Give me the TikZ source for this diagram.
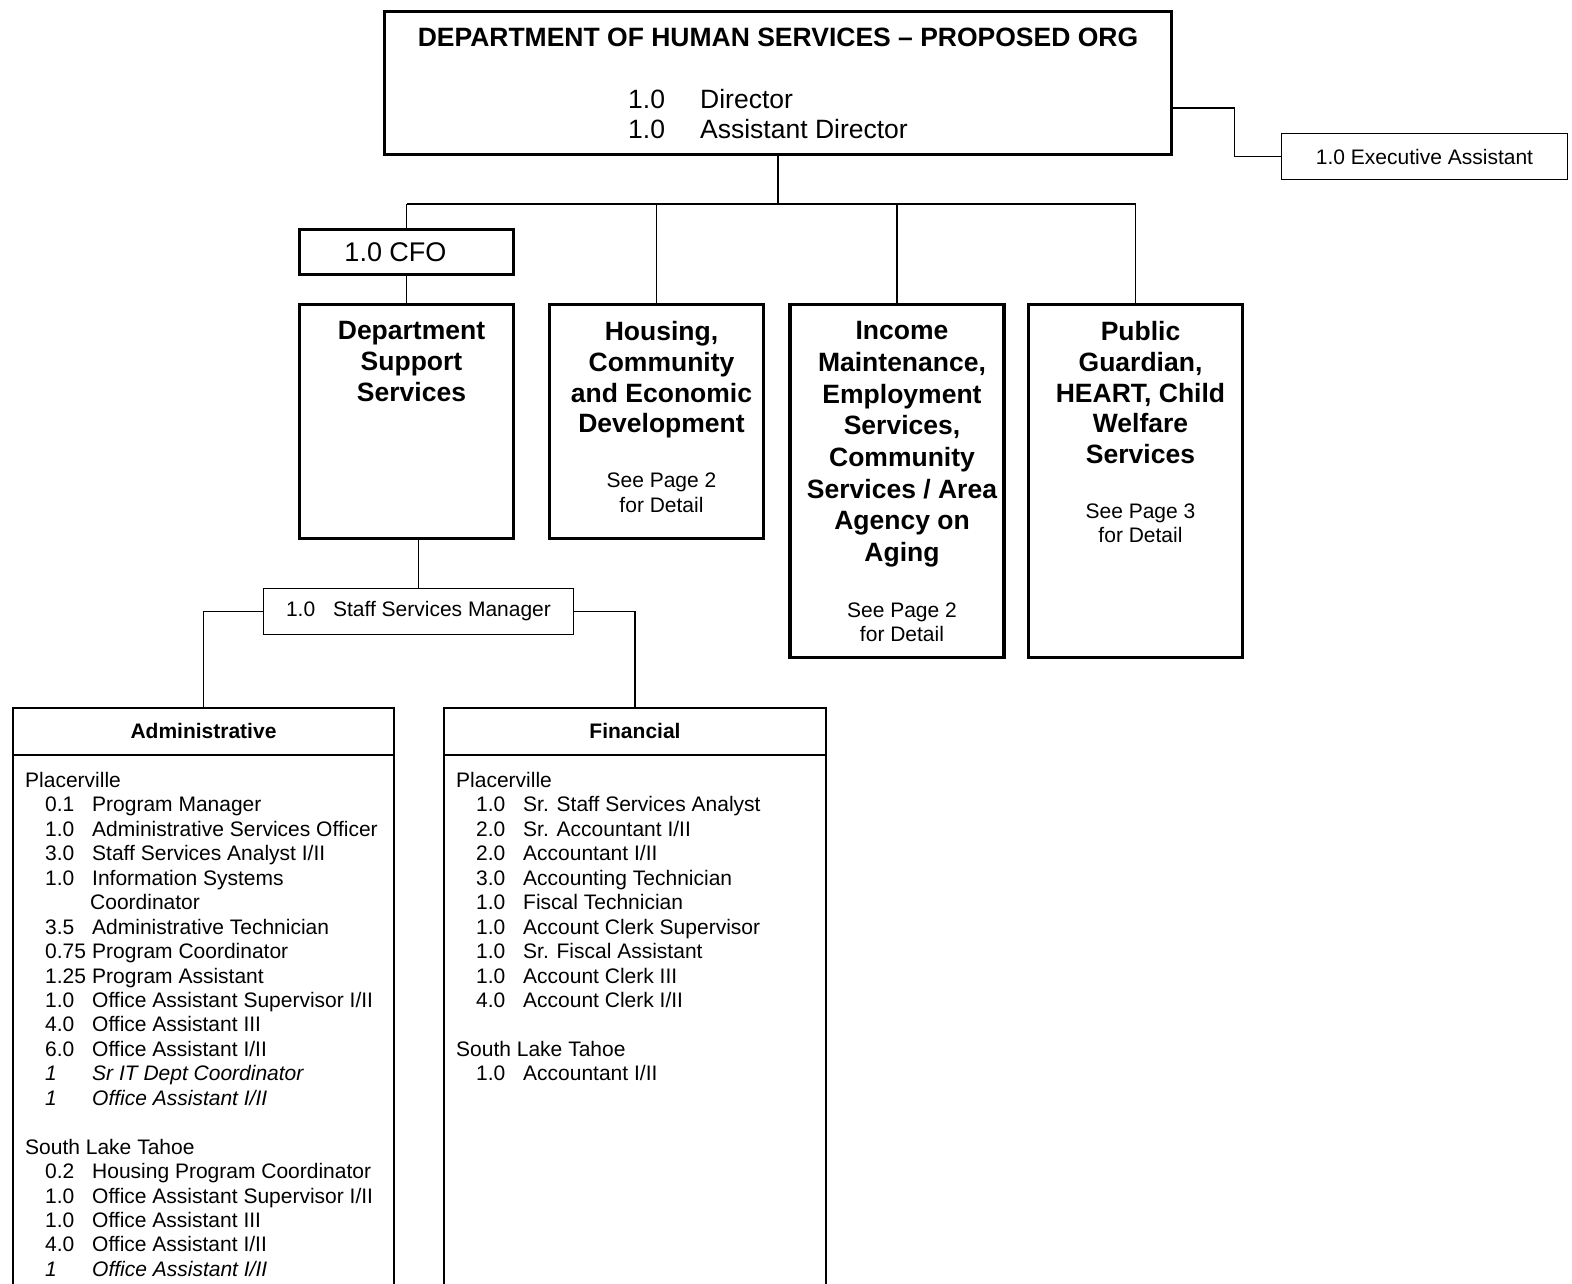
\documentclass[tikz,border=0pt]{standalone}
\usepackage{fontspec}
\setmainfont{Liberation Sans}
\usetikzlibrary{positioning}

% one staff line: count, then title
\newcommand\ent[2]{\hspace*{20pt}\makebox[47pt][l]{#1}#2}

\begin{document}
\begin{tikzpicture}[x=1pt,y=-1pt,
  thickbox/.style={draw, line width=3.5pt, inner sep=0pt},
  thinbox/.style={draw, line width=1.5pt, inner sep=0pt},
  conn/.style={line width=1.5pt},
  headtxt/.style={font=\bfseries\fontsize{26.5}{30.7}\selectfont, align=center, inner sep=0pt, xshift=5pt},
  seetxt/.style={font=\fontsize{21}{24.5}\selectfont, align=center, inner sep=0pt, xshift=5pt},
  listtxt/.style={font=\fontsize{21}{24.45}\selectfont, align=left, inner sep=0pt, anchor=north west}]

\useasboundingbox (0,0) rectangle (1572,1283);
\clip (0,0) rectangle (1572,1283);

% top level
\node[thickbox, minimum width=787pt, minimum height=143pt] (top) at (778,83) {};
\node[font=\bfseries\fontsize{26.5}{30}\selectfont, inner sep=0pt, below=18.5pt of top.north] (title) {DEPARTMENT OF HUMAN SERVICES – PROPOSED ORG};
\node[font=\fontsize{26.5}{29.5}\selectfont, align=left, inner sep=0pt, anchor=north west] (dir) at (628,89.5)
  {\makebox[72pt][l]{1.0}Director\\\makebox[72pt][l]{1.0}Assistant Director};

\node[thinbox, minimum width=286pt, minimum height=46pt, font=\fontsize{21}{24}\selectfont] (exec) at (1424.5,156.5) {1.0 Executive Assistant};
\draw[conn] ([yshift=-25pt]top.east) -- ++(61,0) |- (exec.west);

% divisions
\coordinate (bus) at (776,204);
\node[thickbox, minimum width=214pt, minimum height=45pt, font=\fontsize{27}{30}\selectfont] (cfo) at (406.5,252) {1.0 CFO\hspace*{22pt}};
\node[thickbox, minimum width=214pt, minimum height=234pt] (dss) at (406.5,421.5) {};
\node[thickbox, minimum width=214pt, minimum height=234pt] (hced) at (656.5,421.5) {};
\node[thickbox, minimum width=214pt, minimum height=353pt] (ime) at (897,481) {};
\node[thickbox, minimum width=214pt, minimum height=353pt] (pg) at (1135.5,481) {};

\node[headtxt, below=18.5pt of dss.north] {Department\\Support\\Services};
\node[headtxt, below=18.5pt of hced.north] {Housing,\\Community\\and Economic\\Development};
\node[seetxt, below=170pt of hced.north] {See Page 2\\for Detail};
\node[headtxt, font=\bfseries\fontsize{26.5}{31.7}\selectfont, below=18.5pt of ime.north] {Income\\Maintenance,\\Employment\\Services,\\Community\\Services / Area\\Agency on\\Aging};
\node[seetxt, below=299.5pt of ime.north] {See Page 2\\for Detail};
\node[headtxt, below=18.5pt of pg.north] {Public\\Guardian,\\HEART, Child\\Welfare\\Services};
\node[seetxt, below=200.5pt of pg.north] {See Page 3\\for Detail};

\draw[conn] (top.south) -- (top.south |- bus);
\draw[conn] (bus -| cfo.north) -- (bus -| pg.north);
\foreach \b in {cfo,hced,ime,pg}
  \draw[conn] (bus -| \b.north) -- (\b.north);
\draw[conn] (cfo.south) -- (dss.north);

% support services units
\node[thinbox, minimum width=310pt, minimum height=46pt, font=\fontsize{21}{24}\selectfont] (ssm) at (418.5,611.5) {\makebox[47pt][l]{1.0}Staff Services Manager};
\draw[conn] (ssm.north |- dss.south) -- (ssm.north);

\node[thinbox, minimum width=381pt, minimum height=700pt, anchor=north] (admin) at (203.5,707) {};
\node[thinbox, minimum width=382pt, minimum height=700pt, anchor=north] (fin) at (635,707) {};
\draw[conn] (ssm.west) -| (admin.north);
\draw[conn] (ssm.east) -| (fin.north);

\foreach \u/\t in {admin/Administrative, fin/Financial} {
  \draw[line width=1.5pt] ([yshift=-48pt]\u.north west) -- ([yshift=-48pt]\u.north east);
  \node[font=\bfseries\fontsize{21}{24}\selectfont, inner sep=0pt, minimum height=48pt, below=0pt of \u.north] {\t};
}

\node[listtxt] (adminlist) at (25,772) {Placerville\\
  \ent{0.1}{Program Manager}\\
  \ent{1.0}{Administrative Services Officer}\\
  \ent{3.0}{Staff Services Analyst I/II}\\
  \ent{1.0}{Information Systems}\\
  \hspace*{65pt}Coordinator\\
  \ent{3.5}{Administrative Technician}\\
  \ent{0.75}{Program Coordinator}\\
  \ent{1.25}{Program Assistant}\\
  \ent{1.0}{Office Assistant Supervisor I/II}\\
  \ent{4.0}{Office Assistant III}\\
  \ent{6.0}{Office Assistant I/II}\\
  \ent{\itshape 1}{\itshape Sr IT Dept Coordinator}\\
  \ent{\itshape 1}{\itshape Office Assistant I/II}\\[24.45pt]
  South Lake Tahoe\\
  \ent{0.2}{Housing Program Coordinator}\\
  \ent{1.0}{Office Assistant Supervisor I/II}\\
  \ent{1.0}{Office Assistant III}\\
  \ent{4.0}{Office Assistant I/II}\\
  \ent{\itshape 1}{\itshape Office Assistant I/II}};

\node[listtxt] (finlist) at (456,772) {Placerville\\
  \ent{1.0}{Sr. Staff Services Analyst}\\
  \ent{2.0}{Sr. Accountant I/II}\\
  \ent{2.0}{Accountant I/II}\\
  \ent{3.0}{Accounting Technician}\\
  \ent{1.0}{Fiscal Technician}\\
  \ent{1.0}{Account Clerk Supervisor}\\
  \ent{1.0}{Sr. Fiscal Assistant}\\
  \ent{1.0}{Account Clerk III}\\
  \ent{4.0}{Account Clerk I/II}\\[24.45pt]
  South Lake Tahoe\\
  \ent{1.0}{Accountant I/II}};
\end{tikzpicture}
\end{document}
